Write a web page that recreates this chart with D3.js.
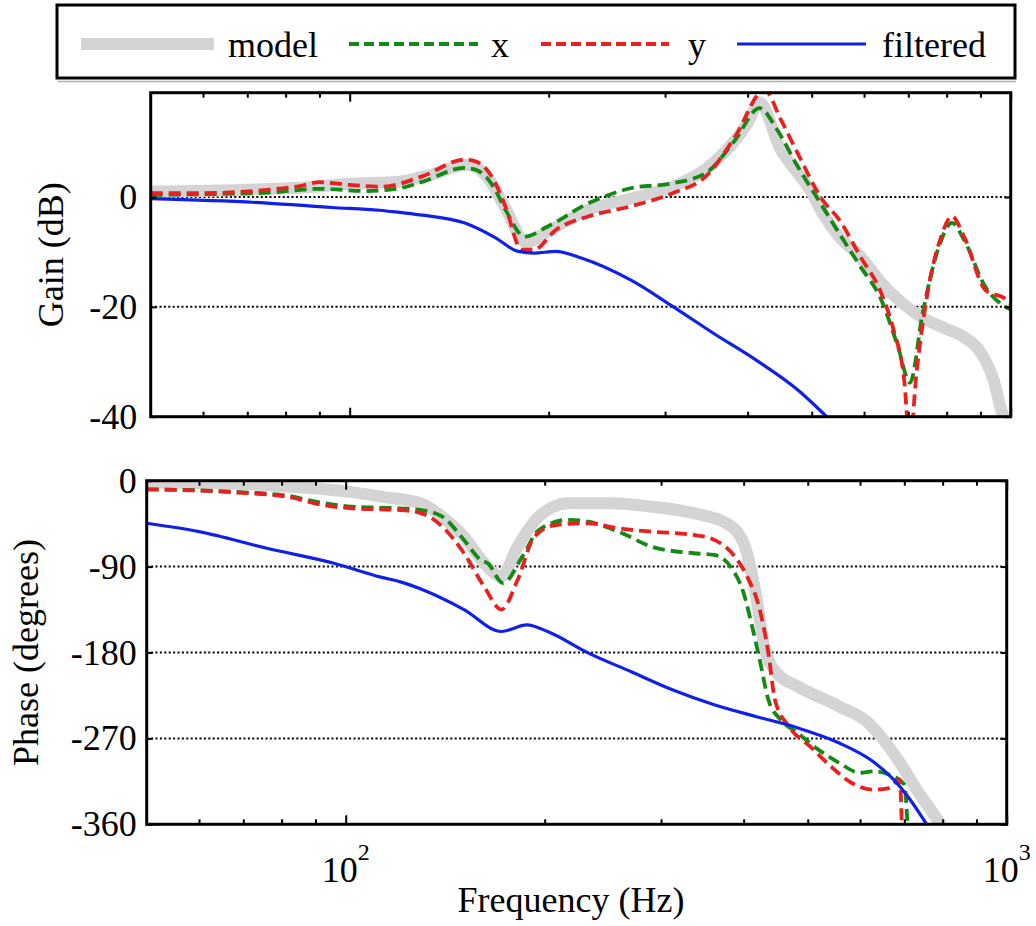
<!DOCTYPE html>
<html>
<head>
<meta charset="utf-8">
<script src="https://cdn.jsdelivr.net/npm/d3@7"></script>
<style>
  html, body { margin: 0; padding: 0; background: #fff; }
  svg { display: block; }
  text { font-family: "Liberation Serif", "Times New Roman", serif; fill: #000; }
</style>
</head>
<body>
<svg id="chart" width="1036" height="926"></svg>
<script>
// ---- Frequency response data, [frequency (Hz), value] ----

// Gain (dB)
const gainModel = [[50,1.0],[84,1.7],[100,2.4],[119,2.8],[132,4.0],[151,5.9],[163,3.0],[172,-2.0],[185,-8.3],[198,-6.5],[230,-2.3],[266,-0.3],[308,1.9],[355,6.2],[400,13.5],[417,17.2],[449,8.6],[476,4.4],[497,1.3],[519,-2.9],[550,-7.2],[592,-10.8],[637,-15.6],[685,-19.3],[736,-22],[792,-23.8],[850,-25.5],[902,-28.4],[942,-33.3],[971,-39.4],[1000,-42]];
const gainX = [[50,0.4],[59,0.5],[75,0.8],[90,1.5],[106,1.1],[119,1.6],[129,2.8],[149,5.3],[155,5.0],[165,1.9],[172,-2.3],[184,-7.2],[199,-5.4],[230,-1.1],[266,1.6],[308,2.5],[346,4.4],[383,10.4],[417,16.2],[443,12.3],[476,5.6],[519,-1.7],[550,-6.6],[592,-12.6],[637,-18.7],[675,-27.2],[704,-33.8],[736,-21.1],[779,-9.0],[815,-4.7],[850,-7.8],[915,-16.3],[1000,-20.5]];
const gainY = [[50,0.7],[59,0.7],[75,1.3],[84,2.0],[90,2.7],[100,2.2],[112,1.9],[129,3.8],[149,6.8],[155,6.5],[165,3.2],[172,-1.7],[182,-9.6],[190,-9.6],[205,-6.0],[230,-3.5],[266,-1.7],[308,0.7],[346,3.8],[383,11.0],[424,19.5],[449,14.1],[476,8.0],[519,-0.5],[550,-4.1],[592,-10.8],[637,-17.5],[665,-24.2],[690,-33.3],[704,-45],[719,-33],[747,-18.1],[785,-7.2],[815,-3.5],[850,-7.2],[915,-16.9],[985,-18.7],[1000,-19.5]];
const gainFiltered = [[50,-0.3],[75,-1.1],[94,-1.9],[111,-2.4],[119,-2.8],[129,-3.3],[149,-4.7],[165,-7.2],[180,-9.9],[190,-10.2],[205,-9.9],[224,-11.1],[266,-15.1],[308,-19.9],[355,-24.8],[412,-29.7],[476,-35.1],[527,-40],[560,-43]];

// Phase (degrees)
const phaseModel = [[50,-2],[67,-3],[85,-7],[102,-12],[113,-16.7],[130,-23.7],[140,-37.7],[151,-58.6],[162,-86.5],[172,-100.5],[182,-69],[196,-37.7],[217,-23.7],[251,-23.7],[290,-27.2],[336,-34],[377,-44.6],[400,-65.5],[417,-117.8],[430,-173.7],[449,-201.5],[483,-215.6],[558,-236.5],[618,-253.9],[645,-268],[684,-292],[736,-327],[791,-358.5],[830,-385]];
const phaseX = [[50,-9],[67,-11.5],[82,-16],[90,-22],[102,-27.2],[121,-29],[130,-30.7],[140,-37.7],[151,-62],[160,-83],[164,-86.5],[173,-107.4],[185,-79.5],[196,-51.6],[217,-41],[233,-43],[262,-55],[290,-69],[336,-76],[361,-77.8],[382,-90],[400,-117.8],[412,-152.8],[423,-187.6],[436,-229.5],[455,-250.4],[483,-264.4],[519,-281.8],[558,-295.7],[600,-306],[627,-304.5],[664,-308],[700,-318.5],[710,-380]];
const phaseY = [[50,-9],[67,-12],[82,-17],[90,-24],[102,-29],[121,-30.7],[130,-34],[140,-48],[151,-76],[162,-111],[172,-135],[182,-104],[193,-58.6],[208,-46.4],[233,-44.6],[258,-49.8],[290,-53.4],[336,-56.8],[361,-62],[388,-79.5],[405,-100.5],[423,-135],[436,-180.6],[446,-229.5],[468,-257.4],[504,-278.4],[542,-299.3],[583,-316.7],[627,-323.7],[664,-322],[689,-313],[695,-380]];
const phaseFiltered = [[50,-44.6],[60,-53.4],[76,-70.8],[96,-86.5],[113,-101],[121,-106],[130.5,-114],[151,-135],[172,-158],[188,-151],[202,-158],[233,-180.6],[270,-200],[312,-219],[361,-234.7],[417,-247],[483,-259],[558,-274.8],[627,-294],[674,-313],[714,-334],[757,-360],[800,-385]];

// Axes
const freqDomain = [50, 1000];
const freqMinorTicks = [60, 70, 80, 90, 200, 300, 400, 500, 600, 700, 800, 900];
const freqMajorTicks = [100, 1000];
const freqTickExponents = [2, 3];
const gainDomain = [-40, 19];
const gainTicks = [-40, -20, 0];
const phaseDomain = [-360, 0];
const phaseTicks = [-360, -270, -180, -90, 0];

const seriesNames = ["model", "x", "y", "filtered"];

// ---- Styling ----
const styles = {
  model:    { color: "#d4d4d4", width: 12,  dash: null },
  x:        { color: "#138a13", width: 3.8, dash: "12,6" },
  y:        { color: "#ea2020", width: 3.8, dash: "12,6" },
  filtered: { color: "#1020e6", width: 3.2, dash: null }
};

const FONT = 36;
const svg = d3.select("#chart");
const defs = svg.append("defs");

const panels = [
  { key: "gain", left: 150.7, right: 1010.7, top: 92.7, bottom: 416.7,
    domain: gainDomain, ticks: gainTicks, title: "Gain (dB)", titleX: 63, labelPad: 13.5,
    data: { model: gainModel, x: gainX, y: gainY, filtered: gainFiltered } },
  { key: "phase", left: 146.7, right: 1006.7, top: 480.7, bottom: 824.3,
    domain: phaseDomain, ticks: phaseTicks, title: "Phase (degrees)", titleX: 38, labelPad: 10,
    data: { model: phaseModel, x: phaseX, y: phaseY, filtered: phaseFiltered } }
];

let lastX = null;

panels.forEach(p => {
  const x = d3.scaleLog().domain(freqDomain).range([p.left, p.right]);
  const y = d3.scaleLinear().domain(p.domain).range([p.bottom, p.top]);
  lastX = x;
  const g = svg.append("g").attr("class", "panel-" + p.key);

  defs.append("clipPath").attr("id", "clip-" + p.key)
    .append("rect")
    .attr("x", p.left).attr("y", p.top)
    .attr("width", p.right - p.left).attr("height", p.bottom - p.top);

  // dotted horizontal grid
  g.append("g").selectAll("line")
    .data(p.ticks.filter(t => t > p.domain[0] && t < p.domain[1]))
    .join("line")
    .attr("x1", p.left).attr("x2", p.right)
    .attr("y1", d => y(d)).attr("y2", d => y(d))
    .attr("stroke", "#000").attr("stroke-width", 2)
    .attr("stroke-dasharray", "2,2.4");

  // response curves
  const line = d3.line()
    .x(d => x(d[0])).y(d => y(d[1]))
    .curve(d3.curveMonotoneX);
  const curves = g.append("g").attr("clip-path", `url(#clip-${p.key})`);
  seriesNames.forEach(name => {
    const s = styles[name];
    curves.append("path")
      .datum(p.data[name])
      .attr("d", line)
      .attr("fill", "none")
      .attr("stroke", s.color)
      .attr("stroke-width", s.width)
      .attr("stroke-dasharray", s.dash)
      .attr("stroke-linejoin", "round");
  });

  // inward ticks on all four sides
  const tickStyle = sel => {
    sel.select(".domain").remove();
    sel.selectAll(".tick line").attr("stroke", "#000").attr("stroke-width", 2);
  };
  g.append("g").attr("transform", `translate(0,${p.bottom})`)
    .call(d3.axisBottom(x).tickValues(freqMinorTicks).tickSize(-5).tickFormat(""))
    .call(tickStyle);
  g.append("g").attr("transform", `translate(0,${p.bottom})`)
    .call(d3.axisBottom(x).tickValues(freqMajorTicks).tickSize(-9).tickFormat(""))
    .call(tickStyle);
  g.append("g").attr("transform", `translate(0,${p.top})`)
    .call(d3.axisTop(x).tickValues(freqMinorTicks).tickSize(-5).tickFormat(""))
    .call(tickStyle);
  g.append("g").attr("transform", `translate(0,${p.top})`)
    .call(d3.axisTop(x).tickValues(freqMajorTicks).tickSize(-9).tickFormat(""))
    .call(tickStyle);

  const yLeft = g.append("g").attr("transform", `translate(${p.left},0)`)
    .call(d3.axisLeft(y).tickValues(p.ticks).tickSize(-6).tickPadding(p.labelPad)
      .tickFormat(d => String(d)))
    .call(tickStyle);
  yLeft.selectAll(".tick text")
    .attr("font-family", null).attr("font-size", FONT).attr("fill", "#000");
  g.append("g").attr("transform", `translate(${p.right},0)`)
    .call(d3.axisRight(y).tickValues(p.ticks).tickSize(-6).tickFormat(""))
    .call(tickStyle);

  // frame
  g.append("rect")
    .attr("x", p.left).attr("y", p.top)
    .attr("width", p.right - p.left).attr("height", p.bottom - p.top)
    .attr("fill", "none").attr("stroke", "#000").attr("stroke-width", 3);

  // y title
  g.append("text")
    .attr("transform", `translate(${p.titleX},${(p.top + p.bottom) / 2}) rotate(-90)`)
    .attr("text-anchor", "middle")
    .attr("font-size", FONT)
    .text(p.title);
});

// decade labels on the frequency axis
const decade = svg.append("g").selectAll("text")
  .data(freqMajorTicks.map((f, i) => ({ f, e: freqTickExponents[i] })))
  .join("text")
  .attr("x", d => lastX(d.f))
  .attr("y", 882)
  .attr("text-anchor", "middle")
  .attr("font-size", FONT);
decade.append("tspan").text("10");
decade.append("tspan").attr("dy", -22).attr("font-size", 24).text(d => d.e);

svg.append("text")
  .attr("x", 571).attr("y", 912)
  .attr("text-anchor", "middle")
  .attr("font-size", FONT)
  .text("Frequency (Hz)");

// ---- Legend ----
svg.append("line")
  .attr("x1", 58).attr("x2", 1016).attr("y1", 81.5).attr("y2", 81.5)
  .attr("stroke", "#b0b0b0").attr("stroke-width", 1.5);

const legend = svg.append("g");
legend.append("rect")
  .attr("x", 57).attr("y", 5).attr("width", 958).attr("height", 73)
  .attr("fill", "#fff").attr("stroke", "#000").attr("stroke-width", 3);

const legendItems = [
  { name: "model",    x1: 81,  x2: 214, tx: 228 },
  { name: "x",        x1: 349, x2: 478, tx: 491 },
  { name: "y",        x1: 541, x2: 669, tx: 688 },
  { name: "filtered", x1: 737, x2: 866, tx: 882 }
];
legendItems.forEach(it => {
  const s = styles[it.name];
  legend.append("line")
    .attr("x1", it.x1).attr("x2", it.x2).attr("y1", 44).attr("y2", 44)
    .attr("stroke", s.color).attr("stroke-width", s.width)
    .attr("stroke-dasharray", s.dash ? "10,5" : null);
  legend.append("text")
    .attr("x", it.tx).attr("y", 57)
    .attr("font-size", FONT)
    .text(it.name);
});
</script>
</body>
</html>
